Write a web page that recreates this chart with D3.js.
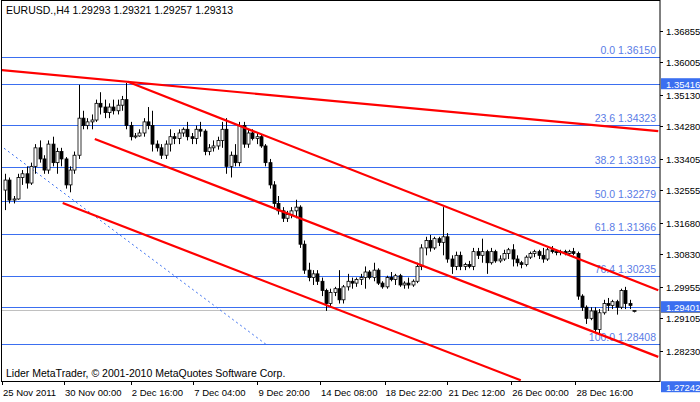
<!DOCTYPE html>
<html><head><meta charset="utf-8">
<script src="https://cdn.jsdelivr.net/npm/d3@7"></script>
<style>body{margin:0;background:#fff}svg text{font-family:"Liberation Sans",Arial,sans-serif;font-size:10.5px}svg .ax{font-size:9.5px}</style>
</head><body><div id="chart"></div>
<script>
// OHLC bars, H4
const bars = [
[1.3256,1.3300,1.3202,1.3283],[1.3283,1.3290,1.3220,1.3229],[1.3229,1.3240,1.3220,1.3232],[1.3232,1.3300,1.3230,1.3290],
[1.3290,1.3310,1.3270,1.3300],[1.3300,1.3320,1.3260,1.3275],[1.3275,1.3330,1.3270,1.3320],[1.3320,1.3380,1.3300,1.3370],
[1.3370,1.3390,1.3330,1.3340],[1.3340,1.3350,1.3300,1.3310],[1.3310,1.3390,1.3300,1.3380],[1.3380,1.3400,1.3320,1.3330],
[1.3330,1.3370,1.3300,1.3360],[1.3360,1.3370,1.3320,1.3340],[1.3340,1.3345,1.3260,1.3270],[1.3270,1.3320,1.3250,1.3310],
[1.3310,1.3360,1.3300,1.3350],[1.3350,1.3540,1.3340,1.3450],[1.3450,1.3470,1.3420,1.3430],[1.3430,1.3450,1.3420,1.3440],
[1.3440,1.3460,1.3420,1.3445],[1.3445,1.3500,1.3440,1.3490],[1.3490,1.3520,1.3460,1.3480],[1.3480,1.3500,1.3450,1.3465],
[1.3465,1.3490,1.3450,1.3480],[1.3480,1.3500,1.3460,1.3470],[1.3470,1.3500,1.3460,1.3485],[1.3485,1.3510,1.3470,1.3500],
[1.3500,1.3545,1.3420,1.3430],[1.3430,1.3440,1.3390,1.3400],[1.3400,1.3410,1.3395,1.3402],[1.3402,1.3420,1.3400,1.3410],
[1.3410,1.3450,1.3400,1.3440],[1.3440,1.3480,1.3420,1.3430],[1.3430,1.3470,1.3360,1.3380],[1.3380,1.3390,1.3360,1.3370],
[1.3370,1.3380,1.3340,1.3350],[1.3350,1.3390,1.3340,1.3380],[1.3380,1.3420,1.3360,1.3400],[1.3400,1.3410,1.3380,1.3395],
[1.3395,1.3420,1.3380,1.3410],[1.3410,1.3425,1.3400,1.3420],[1.3420,1.3440,1.3390,1.3400],[1.3400,1.3410,1.3380,1.3395],
[1.3395,1.3430,1.3380,1.3420],[1.3420,1.3440,1.3400,1.3415],[1.3415,1.3420,1.3350,1.3360],[1.3360,1.3380,1.3350,1.3370],
[1.3370,1.3390,1.3360,1.3375],[1.3375,1.3400,1.3365,1.3390],[1.3390,1.3440,1.3370,1.3420],[1.3420,1.3450,1.3300,1.3320],
[1.3320,1.3360,1.3290,1.3350],[1.3350,1.3380,1.3320,1.3330],[1.3330,1.3440,1.3320,1.3430],[1.3430,1.3440,1.3370,1.3380],
[1.3380,1.3420,1.3370,1.3410],[1.3410,1.3420,1.3390,1.3395],[1.3395,1.3410,1.3380,1.3400],[1.3400,1.3405,1.3370,1.3375],
[1.3375,1.3380,1.3320,1.3330],[1.3330,1.3340,1.3260,1.3270],[1.3270,1.3280,1.3210,1.3220],[1.3220,1.3240,1.3190,1.3200],
[1.3200,1.3210,1.3170,1.3180],[1.3180,1.3200,1.3170,1.3190],[1.3190,1.3210,1.3180,1.3200],[1.3200,1.3230,1.3180,1.3210],
[1.3210,1.3215,1.3100,1.3110],[1.3110,1.3120,1.3030,1.3040],[1.3040,1.3060,1.3010,1.3020],[1.3020,1.3040,1.3000,1.3030],
[1.3030,1.3040,1.3000,1.3010],[1.3010,1.3020,1.2970,1.2985],[1.2985,1.2990,1.2930,1.2950],[1.2950,1.2990,1.2940,1.2980],
[1.2980,1.2995,1.2970,1.2990],[1.2990,1.3040,1.2950,1.2960],[1.2960,1.3000,1.2950,1.2995],[1.2995,1.3030,1.2985,1.3010],
[1.3010,1.3020,1.2990,1.3005],[1.3005,1.3020,1.2995,1.3015],[1.3015,1.3030,1.3000,1.3020],[1.3020,1.3050,1.2990,1.3035],
[1.3035,1.3040,1.3015,1.3020],[1.3020,1.3060,1.3010,1.3040],[1.3040,1.3045,1.3000,1.3005],[1.3005,1.3010,1.2990,1.2995],
[1.2995,1.3025,1.2990,1.3020],[1.3020,1.3035,1.3010,1.3015],[1.3015,1.3030,1.3000,1.3025],[1.3025,1.3030,1.2995,1.3000],
[1.3000,1.3010,1.2990,1.3005],[1.3005,1.3020,1.2990,1.3000],[1.3000,1.3015,1.2995,1.3010],[1.3010,1.3060,1.3005,1.3050],
[1.3050,1.3110,1.3040,1.3100],[1.3100,1.3130,1.3080,1.3120],[1.3120,1.3135,1.3090,1.3100],[1.3100,1.3130,1.3095,1.3125],
[1.3125,1.3130,1.3105,1.3115],[1.3115,1.3210,1.3080,1.3130],[1.3130,1.3140,1.3060,1.3070],[1.3070,1.3080,1.3030,1.3050],
[1.3050,1.3090,1.3040,1.3080],[1.3080,1.3090,1.3040,1.3050],[1.3050,1.3060,1.3040,1.3055],[1.3055,1.3065,1.3045,1.3050],
[1.3050,1.3100,1.3040,1.3090],[1.3090,1.3100,1.3070,1.3080],[1.3080,1.3125,1.3060,1.3090],[1.3090,1.3095,1.3030,1.3060],
[1.3060,1.3100,1.3055,1.3090],[1.3090,1.3095,1.3060,1.3065],[1.3065,1.3080,1.3060,1.3070],[1.3070,1.3095,1.3065,1.3085],
[1.3085,1.3100,1.3070,1.3095],[1.3095,1.3110,1.3050,1.3070],[1.3070,1.3080,1.3050,1.3060],[1.3060,1.3065,1.3045,1.3055],
[1.3055,1.3080,1.3050,1.3075],[1.3075,1.3090,1.3070,1.3085],[1.3085,1.3095,1.3075,1.3090],[1.3090,1.3095,1.3070,1.3080],
[1.3080,1.3100,1.3060,1.3070],[1.3070,1.3100,1.3065,1.3095],[1.3095,1.3105,1.3085,1.3090],[1.3090,1.3095,1.3080,1.3088],
[1.3088,1.3095,1.3080,1.3090],[1.3090,1.3095,1.3080,1.3085],[1.3085,1.3095,1.3078,1.3090],[1.3090,1.3100,1.3080,1.3085],
[1.3085,1.3090,1.2960,1.2970],[1.2970,1.2975,1.2930,1.2940],[1.2940,1.2945,1.2895,1.2910],[1.2910,1.2940,1.2905,1.2930],
[1.2930,1.2940,1.2870,1.2880],[1.2880,1.2935,1.2865,1.2925],[1.2925,1.2960,1.2920,1.2950],[1.2950,1.2965,1.2930,1.2945],
[1.2945,1.2960,1.2935,1.2955],[1.2955,1.2960,1.2920,1.2940],[1.2940,1.2990,1.2935,1.2985],[1.2985,1.2995,1.2935,1.2950],
[1.2950,1.2960,1.2935,1.2945],[1.2929,1.2932,1.2926,1.2931]
];
const fibLevels = [0.0, 23.6, 38.2, 50.0, 61.8, 76.4, 100.0];
const fibPrices = [1.36150, 1.34323, 1.33193, 1.32279, 1.31366, 1.30235, 1.28408];
const priceTicks = [1.36855,1.36005,1.35130,1.34280,1.33405,1.32555,1.31680,1.30830,1.29955,1.29105,1.28230];
const timeLabels = ["25 Nov 2011","30 Nov 00:00","2 Dec 16:00","7 Dec 04:00","9 Dec 20:00","14 Dec 08:00","18 Dec 22:00","21 Dec 12:00","26 Dec 00:00","28 Dec 16:00"];
const timeLabelBars = [-0.7, 13.6, 29.0, 43.4, 58.2, 72.6, 87.5, 102.0, 116.7, 131.5];
// trend lines: [bar1, price1, bar2, price2]
const trendLines = [[-1.15,1.3580,150.6,1.3415],[28.3,1.3548,150.6,1.2986],[20.7,1.3394,150.6,1.2806],[13.3,1.3221,118.9,1.2743]];
const dashLine = [-1.15,1.3377,60.5,1.2837];
const bidPrice = 1.29313, markPrices = [1.35416, 1.29401, 1.27242];

const W = 700, H = 402, R = 660, B = 381;
const svg = d3.select("#chart").append("svg").attr("width", W).attr("height", H);
const x = d3.scaleLinear().domain([0, bars.length - 1]).range([5, 634]);
const y = d3.scaleLinear().domain([1.3615, 1.28408]).range([57, 344]);

svg.append("clipPath").attr("id", "c").append("rect").attr("x", 2).attr("y", 1).attr("width", R - 2).attr("height", B - 1);
const g = svg.append("g").attr("clip-path", "url(#c)");

// fib lines
g.selectAll(".fib").data(fibPrices).enter().append("line")
  .attr("x1", 0).attr("x2", R).attr("y1", d => Math.round(y(d)) + 0.5).attr("y2", d => Math.round(y(d)) + 0.5)
  .attr("stroke", "#3b6ff0").attr("stroke-width", 1);
g.selectAll(".fibt").data(fibPrices).enter().append("text")
  .attr("x", 656).attr("y", d => y(d) - 3).attr("text-anchor", "end").attr("fill", "#5a7ce6")
  .text((d, i) => fibLevels[i].toFixed(1) + " " + d.toFixed(5));
// marker levels
g.selectAll(".mk").data(markPrices.slice(0, 2)).enter().append("line")
  .attr("x1", 0).attr("x2", R).attr("y1", d => Math.round(y(d)) + 0.5).attr("y2", d => Math.round(y(d)) + 0.5)
  .attr("stroke", "#3b6ff0");
g.append("line").attr("x1", 0).attr("x2", R).attr("y1", Math.round(y(bidPrice)) + 0.5).attr("y2", Math.round(y(bidPrice)) + 0.5)
  .attr("stroke", "#c0c0c0");

// dashed blue
g.append("line").attr("x1", x(dashLine[0])).attr("y1", y(dashLine[1])).attr("x2", x(dashLine[2])).attr("y2", y(dashLine[3]))
  .attr("stroke", "#3b6ff0").attr("stroke-dasharray", "2,3").attr("stroke-width", 1);

// candles
const c = g.selectAll(".bar").data(bars).enter().append("g");
c.append("line").attr("x1", (d, i) => Math.round(x(i)) + 0.5).attr("x2", (d, i) => Math.round(x(i)) + 0.5)
  .attr("y1", d => y(d[1])).attr("y2", d => y(d[2])).attr("stroke", "#000");
c.append("rect").attr("x", (d, i) => Math.round(x(i)) - 1).attr("width", 3)
  .attr("y", d => y(Math.max(d[0], d[3]))).attr("height", d => Math.max(1, Math.abs(y(d[0]) - y(d[3]))))
  .attr("fill", d => d[3] >= d[0] ? "#fff" : "#000").attr("stroke", "#000").attr("stroke-width", 0.8);

// red trend lines
g.selectAll(".tl").data(trendLines).enter().append("line")
  .attr("x1", d => x(d[0])).attr("y1", d => y(d[1])).attr("x2", d => x(d[2])).attr("y2", d => y(d[3]))
  .attr("stroke", "#ff0000").attr("stroke-width", 2.2);

// frame
svg.append("rect").attr("x", 1.5).attr("y", 0.5).attr("width", R - 1.5).attr("height", B).attr("fill", "none").attr("stroke", "#000");

// right axis
const ax = svg.append("g");
ax.selectAll("line").data(priceTicks).enter().append("line")
  .attr("x1", R).attr("x2", R + 3).attr("y1", d => Math.round(y(d)) + 0.5).attr("y2", d => Math.round(y(d)) + 0.5).attr("stroke", "#000");
ax.selectAll("text").data(priceTicks).enter().append("text").attr("class", "ax")
  .attr("x", 666).attr("y", d => y(d) + 4).attr("fill", "#000").text(d => d.toFixed(5));
svg.append("rect").attr("x", R + 1).attr("y", y(bidPrice) - 1).attr("width", 39).attr("height", 3).attr("fill", "#000");
markPrices.forEach(p => {
  svg.append("rect").attr("x", R + 1).attr("y", y(p) - 6).attr("width", 39).attr("height", 11).attr("fill", "#3b6ff0");
  svg.append("text").attr("class", "ax").attr("x", 666).attr("y", y(p) + 3.5).attr("fill", "#fff").text(p.toFixed(5));
});

// bottom axis
svg.selectAll(".tt").data(timeLabels).enter().append("line")
  .attr("x1", (d, i) => Math.round(x(timeLabelBars[i])) + 0.5).attr("x2", (d, i) => Math.round(x(timeLabelBars[i])) + 0.5)
  .attr("y1", B).attr("y2", B + 4).attr("stroke", "#000");
svg.selectAll(".tx").data(timeLabels).enter().append("text").attr("class", "ax")
  .attr("x", (d, i) => x(timeLabelBars[i]) + 1).attr("y", 396).attr("fill", "#000").text(d => d);

// titles
svg.append("text").attr("x", 6).attr("y", 14).attr("fill", "#000").text("EURUSD.,H4  1.29293 1.29321 1.29257 1.29313");
svg.append("text").attr("x", 6).attr("y", 377).attr("fill", "#000").text("Lider MetaTrader, © 2001-2010 MetaQuotes Software Corp.");
</script></body></html>
